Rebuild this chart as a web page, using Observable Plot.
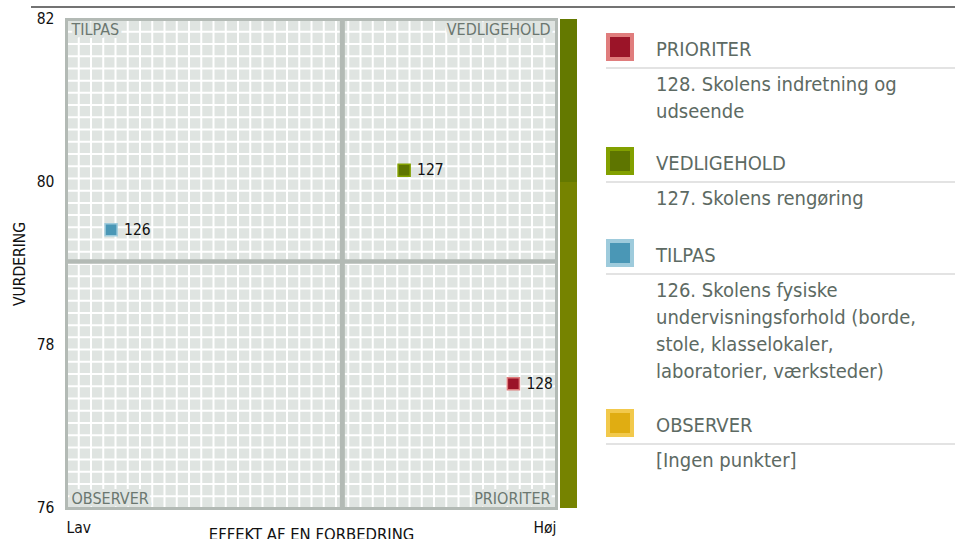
<!DOCTYPE html>
<html><head><meta charset="utf-8">
<script src="https://cdn.jsdelivr.net/npm/d3@7"></script>
<script src="https://cdn.jsdelivr.net/npm/@observablehq/plot@0.6"></script>
<style>
body{margin:0;background:#fff;font-family:"DejaVu Sans Condensed","DejaVu Sans",sans-serif;}
#wrap{position:relative;width:955px;height:539px;overflow:hidden;}
#topline{position:absolute;left:31px;right:0;top:6px;height:1.5px;background:#737373;}
#chart{position:absolute;left:0;top:0;}
#legend{position:absolute;left:606px;top:0;right:0;height:539px;color:#5d6a63;font-size:20px;}
.sec{position:absolute;left:0;right:0;height:120px;}
.sw{position:absolute;left:0;top:0;width:20px;height:20px;border:4px solid;}
.hd{position:absolute;left:50px;top:3px;line-height:27px;white-space:nowrap;}
.sep{position:absolute;left:0;right:0;top:34px;height:2px;background:#e3e3e3;}
.ds{position:absolute;left:50px;top:38px;line-height:27px;white-space:nowrap;}
</style></head><body>
<div id="wrap"><div id="topline"></div><div id="chart"></div><div id="legend"></div></div>
<script>
// ---- data ----
const ids = ["126", "127", "128"];
const effekt = [0.091, 0.689, 0.912];        // x: Lav (0) .. Høj (1)
const vurdering = [79.42, 80.15, 77.53];     // y
const kategori = ["TILPAS", "VEDLIGEHOLD", "PRIORITER"];
const yTicks = [76, 78, 80, 82];
const xEnds = ["Lav", "Høj"];
const midX = 0.563;
const midY = 79.03;
const quadrantNames = ["TILPAS", "VEDLIGEHOLD", "OBSERVER", "PRIORITER"];
const legendCats = ["PRIORITER", "VEDLIGEHOLD", "TILPAS", "OBSERVER"];
const legendFill = ["#9b1428", "#5e7500", "#4a97b6", "#e0ad12"];
const legendStroke = ["#e07d7d", "#82a000", "#9ecbdc", "#f2c94c"];
const legendTexts = [
  ["128. Skolens indretning og", "udseende"],
  ["127. Skolens rengøring"],
  ["126. Skolens fysiske", "undervisningsforhold (borde,", "stole, klasselokaler,", "laboratorier, værksteder)"],
  ["[Ingen punkter]"]
];
const barLow = [76, 80];
const barHigh = [80, 82];
const barColor = ["#768300", "#647900"];

// ---- build ----
const points = ids.map((id, i) => ({id, x: effekt[i], y: vurdering[i], cat: kategori[i]}));
const fillOf = c => legendFill[legendCats.indexOf(c)];
const strokeOf = c => legendStroke[legendCats.indexOf(c)];
const bar = barLow.map((lo, i) => ({lo, hi: barHigh[i], color: barColor[i]}));

const qText = "#6b7770";
const bg = "#dfe4e1";
const lineGray = "#b3bab5";

const chart = Plot.plot({
  width: 590, height: 539,
  marginLeft: 66, marginRight: 34, marginTop: 19, marginBottom: 31,
  style: {fontFamily: '"DejaVu Sans Condensed","DejaVu Sans",sans-serif', background: "transparent", overflow: "visible"},
  x: {domain: [0, 1], axis: null},
  y: {domain: [76, 82], axis: null},
  marks: [
    Plot.frame({fill: bg}),
    Plot.ruleX(d3.range(1, 40).map(i => i / 40), {stroke: "white", strokeWidth: 2}),
    Plot.ruleY(d3.range(1, 40).map(i => 76 + i * 6 / 40), {stroke: "white", strokeWidth: 2}),
    Plot.ruleX([midX], {stroke: lineGray, strokeWidth: 5}),
    Plot.ruleY([midY], {stroke: lineGray, strokeWidth: 4.5}),
    Plot.text([quadrantNames[0]], {frameAnchor: "top-left", text: d => d, dx: 5, dy: 4, lineAnchor: "top", fontSize: 16, fill: qText, stroke: bg, strokeWidth: 6, paintOrder: "stroke"}),
    Plot.text([quadrantNames[1]], {frameAnchor: "top-right", text: d => d, dx: -6, dy: 4, lineAnchor: "top", fontSize: 16, fill: qText, stroke: bg, strokeWidth: 6, paintOrder: "stroke"}),
    Plot.text([quadrantNames[2]], {frameAnchor: "bottom-left", text: d => d, dx: 5, dy: -5, lineAnchor: "bottom", fontSize: 16, fill: qText, stroke: bg, strokeWidth: 6, paintOrder: "stroke"}),
    Plot.text([quadrantNames[3]], {frameAnchor: "bottom-right", text: d => d, dx: -6, dy: -5, lineAnchor: "bottom", fontSize: 16, fill: qText, stroke: bg, strokeWidth: 6, paintOrder: "stroke"}),
    Plot.frame({stroke: lineGray, strokeWidth: 3}),
    Plot.rect(bar, {x1: 1, x2: 1, y1: "lo", y2: "hi", fill: "color", insetRight: -17, dx: 4}),
    Plot.dot(points, {x: "x", y: "y", symbol: "square", r: 6.8, fill: d => fillOf(d.cat), stroke: d => strokeOf(d.cat), strokeWidth: 1.5}),
    Plot.text(points, {x: "x", y: "y", text: "id", dx: 13, textAnchor: "start", fontSize: 15.5, fill: "#111"}),
    Plot.axisY(yTicks, {tickSize: 0, tickPadding: 12, tickFormat: "d", fontSize: 15.5, fill: "#111", label: "VURDERING", labelAnchor: "center", labelArrow: "none", labelOffset: 53}),
    Plot.text([xEnds[0]], {x: 0, y: 76, text: d => d, textAnchor: "start", lineAnchor: "top", dy: 13, fontSize: 15.5, fill: "#111"}),
    Plot.text([xEnds[1]], {x: 1, y: 76, text: d => d, textAnchor: "end", lineAnchor: "top", dy: 13, fontSize: 15.5, fill: "#111"}),
    Plot.text(["EFFEKT AF EN FORBEDRING"], {frameAnchor: "bottom", text: d => d, lineAnchor: "top", dy: 20, fontSize: 16.5, fill: "#111"})
  ]
});
document.getElementById("chart").appendChild(chart);

// ---- legend ----
const tops = [33, 147, 239, 409];
const leg = document.getElementById("legend");
legendCats.forEach((c, i) => {
  const s = document.createElement("div");
  s.className = "sec";
  s.style.top = tops[i] + "px";
  const sw = document.createElement("div");
  sw.className = "sw";
  sw.style.background = legendFill[i];
  sw.style.borderColor = legendStroke[i];
  const hd = document.createElement("div");
  hd.className = "hd"; hd.textContent = c;
  const sep = document.createElement("div"); sep.className = "sep";
  const ds = document.createElement("div");
  ds.className = "ds";
  legendTexts[i].forEach((t, j) => {
    if (j) ds.appendChild(document.createElement("br"));
    ds.appendChild(document.createTextNode(t));
  });
  s.append(sw, hd, sep, ds);
  leg.appendChild(s);
});
</script>
</body></html>
